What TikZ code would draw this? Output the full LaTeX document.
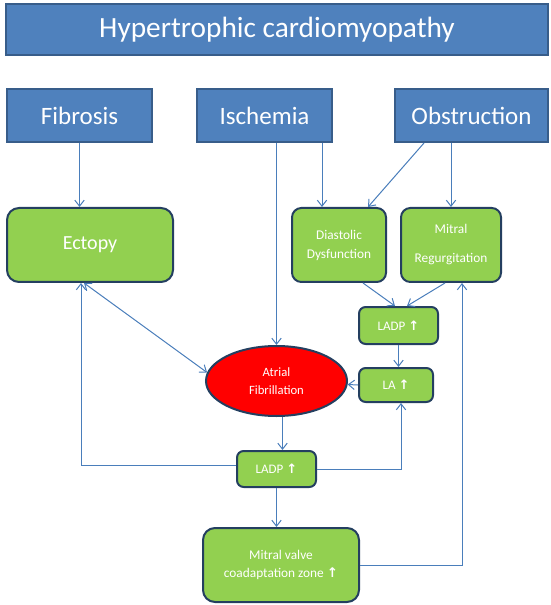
\documentclass[tikz,border=0pt]{standalone}
\usepackage{fontspec}
\setmainfont{Carlito}
\newfontfamily\symfont{DejaVu Sans}
\usetikzlibrary{shapes.geometric,arrows.meta,calc}

\definecolor{hcmblue}{HTML}{4F81BD}
\definecolor{hcmblueline}{HTML}{385D8A}
\definecolor{hcmgreen}{HTML}{92D050}
\definecolor{hcmnavy}{HTML}{243F60}
\definecolor{hcmred}{HTML}{FF0000}
\definecolor{hcmarrow}{HTML}{4A7EBB}
\newcommand{\upa}{{\symfont\bfseries ↑}}

\tikzset{every picture/.style={line width=0.75pt},
  headbox/.style={draw=hcmblueline, fill=hcmblue, line width=1.5pt, text=white, inner sep=0pt, align=center, font=\fontsize{18.75}{22}\selectfont, minimum height=39.75pt},
  greenbox/.style={draw=hcmnavy, fill=hcmgreen, line width=1.5pt, text=white, rounded corners=7pt, inner sep=0pt, align=center},
  barb/.style={-{Straight Barb[length=4.5pt,width=7pt]}},
  link/.style={draw=hcmarrow, line width=0.75pt, barb},
  twoway/.style={draw=hcmarrow, line width=0.75pt, {Straight Barb[length=4.5pt,width=7pt]}-{Straight Barb[length=4.5pt,width=7pt]}}}

\begin{document}
\begin{tikzpicture}[x=0.75pt,y=0.75pt,yscale=-1,xscale=1]
    \useasboundingbox (0,0) rectangle (550,605);

    %Title
    \node [headbox, minimum width=406.5pt, minimum height=38.25pt, font=\fontsize{22}{26}\selectfont] (hcm) at (277,29.5) {Hypertrophic cardiomyopathy};

    %Causes
    \node [headbox, minimum width=108.75pt] (fibrosis) at (79.5,115.5) {Fibrosis};
    \node [headbox, minimum width=101.25pt] (ischemia) at (264.5,115.5) {Ischemia};
    \node [headbox, minimum width=114.75pt] (obstruction) at (471.5,115.5) {Obstruction};

    %Green boxes
    \node [greenbox, rounded corners=9pt, minimum width=124.5pt, minimum height=55.5pt, font=\fontsize{15}{18}\selectfont] (ectopy) at (90,245) {Ectopy};
    \node [greenbox, minimum width=70.5pt, minimum height=55.5pt, font=\fontsize{10}{14.25}\selectfont] (diastolic) at (339,245) {Diastolic\\Dysfunction};
    \node [greenbox, minimum width=75pt, minimum height=55.5pt, font=\fontsize{10}{21.75}\selectfont] (mitral) at (451,245) {Mitral\\Regurgitation};
    \node [greenbox, rounded corners=5pt, minimum width=59.25pt, minimum height=27.75pt, font=\fontsize{9.75}{12}\selectfont] (ladpup) at (398.5,325.5) {LADP \upa};
    \node [greenbox, rounded corners=5pt, minimum width=55.5pt, minimum height=25.5pt, font=\fontsize{9.75}{12}\selectfont] (laup) at (396,385) {LA \upa};
    \node [greenbox, rounded corners=5pt, minimum width=59.25pt, minimum height=27pt, font=\fontsize{9.75}{12}\selectfont] (ladpdown) at (276.5,469) {LADP \upa};
    \node [greenbox, rounded corners=9pt, minimum width=117pt, minimum height=55.5pt, font=\fontsize{10}{14}\selectfont] (mvzone) at (281,565) {Mitral valve\\coadaptation zone \upa};

    %Ellipse
    \node [ellipse, draw=hcmnavy, fill=hcmred, line width=1.5pt, text=white, inner sep=0pt, align=center, minimum width=105.75pt, minimum height=52.5pt, font=\fontsize{9.5}{13.5}\selectfont] (afib) at (276.5,381) {Atrial\\Fibrillation};

    \coordinate (diain) at ($(diastolic.north west)+(31,0)$);

    %Arrows
    \draw [link] (fibrosis.south) -- (fibrosis.south |- ectopy.north);
    \draw [link] (ischemia.south -| afib.north) -- (afib.north);
    \draw [link] (ischemia.south -| diain) -- (diain);
    \draw [link] ($(obstruction.south west)+(30,0)$) -- ($(diastolic.north east)+(-19,0)$);
    \draw [link] (obstruction.south -| mitral.north) -- (mitral.north);
    \draw [link] ($(diastolic.south)+(24,0)$) -- ($(ladpup.north)+(-3.5,0)$);
    \draw [link] ($(mitral.south)+(-6,0)$) -- ($(ladpup.north)+(8.5,0)$);
    \draw [link] (ladpup.south) -- (ladpup.south |- laup.north);
    \draw [link] (laup.west) -- (afib);
    \draw [twoway] ($(ectopy.south west)+(78,0)$) -- (afib.173);
    \draw [link] ($(afib.south)+(6,0)$) -- ($(ladpdown.north)+(6,0)$);
    \draw [link] ($(ladpdown.west)+(0,-4)$) -| ($(ectopy.south west)+(75,0)$);
    \draw [link] (ladpdown.east) -| ($(laup.south)+(5,0)$);
    \draw [link] (ladpdown.south) -- (ladpdown.south |- mvzone.north);
    \draw [link] (mvzone.east) -| ($(mitral.south)+(11,0)$);

\end{tikzpicture}
\end{document}
